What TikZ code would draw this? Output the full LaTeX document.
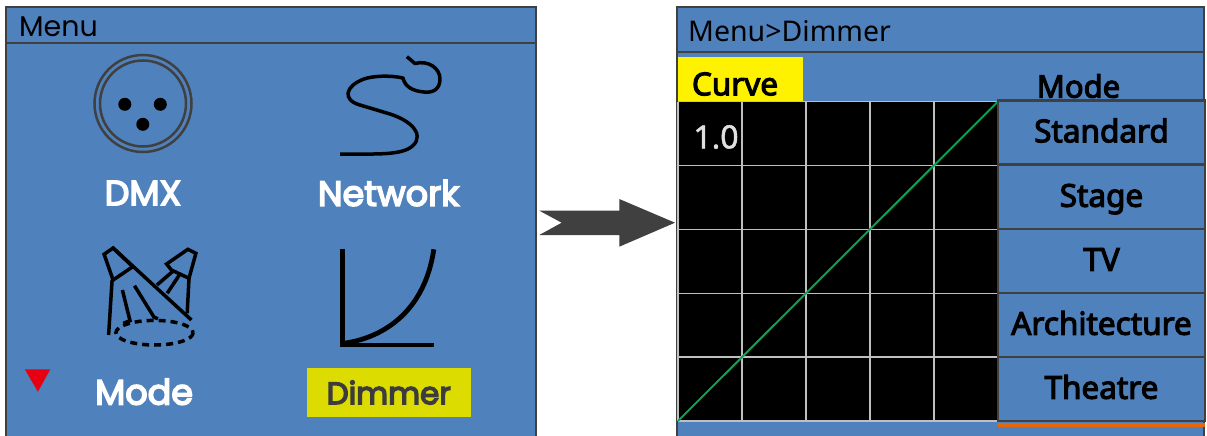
\documentclass[tikz,border=0pt]{standalone}
\usepackage{fontspec}
\setmainfont{Noto Sans}
\newfontfamily\popfont{Poppins}
\newfontfamily\popmed[FakeBold=4.5]{Poppins}
\newfontfamily\notomed[FakeBold=3.5]{Noto Sans}
\newfontfamily\notolight[FakeBold=1.5]{Noto Sans}
\definecolor{panelblue}{HTML}{4F81BD}
\definecolor{bordergray}{HTML}{404040}
\definecolor{gridgray}{HTML}{BFBFBF}
\definecolor{curvegreen}{HTML}{00A651}
\definecolor{selyellow}{HTML}{FFF200}
\definecolor{dimyellow}{HTML}{DCDC00}
\definecolor{markred}{HTML}{E60012}
\definecolor{lineorange}{HTML}{E8650A}
\definecolor{darktext}{HTML}{3C3C3C}
\tikzset{
  panelframe/.style={draw=bordergray, line width=2pt, fill=panelblue},
  sepline/.style={draw=bordergray, line width=2pt},
  icon/.style={draw=black, line width=3.5pt, line join=miter},
  lbl/.style={text=white, inner sep=0pt, font=\popmed\fontsize{35}{40}\selectfont},
  headtext/.style={inner sep=0pt, anchor=west, text=black},
  cellbox/.style={draw=bordergray, line width=2.5pt, fill=panelblue, minimum width=207pt,
    minimum height=64pt, inner sep=0pt, text=black, text height=22.5pt, text depth=3pt,
    font=\notomed\fontsize{31.5}{34}\selectfont},
  gridline/.style={draw=gridgray, line width=1.3pt},
}
\begin{document}
\begin{tikzpicture}[x=1pt,y=-1pt]
\useasboundingbox (0,0) rectangle (1207,436);
\clip (0,0) rectangle (1207,436);
\fill[white] (0,0) rectangle (1207,436);

% ---------------- left panel ----------------
\draw[panelframe] (6,7.5) rectangle (536,460);
\draw[sepline] (6,43) -- (536,43);
\node[headtext, font=\popfont\fontsize{28.5}{32}\selectfont] (menuhead) at (19,26.5) {Menu};

% DMX icon
\draw[draw=bordergray, line width=2.5pt] (143,103.5) circle[radius=48.5];
\draw[draw=bordergray, line width=2.5pt] (143,103.5) circle[radius=43];
\fill[black] (124.8,104.3) circle[radius=6.5];
\fill[black] (160.3,104.3) circle[radius=6.5];
\fill[black] (142.8,124.3) circle[radius=6.5];
\node[lbl] (dmx) at (143,193) {DMX};

% Network icon
\draw[icon, line cap=butt, line join=round] (406.9,56.7) -- (415,63.5)
  .. controls (428,60) and (440,68) .. (440,79)
  .. controls (440,90) and (432,93) .. (424,92)
  .. controls (413,91) and (405,87) .. (403,78)
  .. controls (390,75) and (372,76) .. (364,79)
  .. controls (345,86) and (342,100) .. (360,105)
  -- (390,114)
  .. controls (418,123) and (425,140) .. (408,149)
  .. controls (395,155) and (375,154) .. (340,154);
\node[lbl] (network) at (388.6,193) {Network};

% Mode icon (moving heads)
\draw[icon] (104.1,254.3) -- (113.1,248) -- (132.8,266.7) -- (113.1,280) -- cycle;
\draw[icon] (113.1,248) -- (191.4,320);
\draw[icon] (112.1,280) -- (108.6,335);
\draw[icon] (122.4,290) -- (130,320.7) -- (123.4,323.3);
\draw[icon] (134.5,285.7) -- (154.1,317.3) -- (157.9,318.7);
\draw[icon] (166.6,264) -- (187.9,249.3) -- (195.9,253.3) -- (189,278.3) -- (171.4,270) -- cycle;
\draw[icon] (189,278.3) -- (187.2,313.3);
\draw[icon] (172.4,271.7) -- (156.9,285);
\draw[icon] (179.3,275) -- (167.2,293.3);
\draw[icon, dash pattern=on 7pt off 5pt] (154.5,332.7) ellipse[x radius=38.6, y radius=12.3];
\fill[markred] (24.8,369.3) -- (50.3,369.3) -- (37.9,391.7) -- cycle;
\node[lbl] (modelbl) at (144.1,391.7) {Mode};

% Dimmer icon
\draw[icon, line width=4.8pt] (342.4,249.3) -- (342.4,345) -- (433.8,345);
\draw[icon, line width=4.8pt] (342.4,343.5) .. controls (385,338) and (425,310) .. (433.8,249.3);
\node[lbl, fill=dimyellow, text=darktext, minimum width=163.8pt, minimum height=48.4pt,
  font=\popmed\fontsize{31}{36}\selectfont]
  (dimmerlbl) at (388.8,392.5) {Dimmer};

% ---------------- arrow ----------------
\fill[bordergray] (539.3,210.7) -- (619.3,210.7) -- (619.3,199) -- (675,222.7)
  -- (619.3,246.7) -- (619.3,235) -- (539.3,235) -- (561.7,222.7) -- cycle;

% ---------------- right panel ----------------
\draw[panelframe] (677,7.5) rectangle (1204,460);
\draw[sepline] (677,52.5) -- (1204,52.5);
\node[headtext, font=\fontsize{28.5}{32}\selectfont] (dimhead) at (688,31) {Menu>Dimmer};
\fill[selyellow] (678,57.5) rectangle (803,101);
\node[inner sep=0pt, font=\notomed\fontsize{31.5}{34}\selectfont] (curvelbl) at (735,84) {Curve};
\node[inner sep=0pt, font=\notomed\fontsize{31}{34}\selectfont] (modehead) at (1078.5,86) {Mode};

% grid
\fill[black] (678,101.5) rectangle (998,421);
\foreach \k in {0,...,5} {
  \draw[gridline] (678+64*\k,101.5) -- (678+64*\k,421);
  \draw[gridline] (678,101.5+63.9*\k) -- (998,101.5+63.9*\k);
}
\draw[draw=curvegreen, line width=2pt] (678,421) -- (998,101.5);
\node[inner sep=0pt, text=white!88!black, font=\notolight\fontsize{32}{36}\selectfont] (oneval) at (716,137) {1.0};

% mode cells
\node[cellbox] (standard) at (1101.5,132.5) {Standard};
\node[cellbox] (stage) at (1101.5,197) {Stage};
\node[cellbox] (tv) at (1101.5,261) {TV};
\node[cellbox] (arch) at (1101.5,325) {Architecture};
\node[cellbox] (theatre) at (1101.5,389) {Theatre};
\draw[draw=lineorange, line width=3.5pt] (998,425.2) -- (1205,425.2);
\end{tikzpicture}
\end{document}
